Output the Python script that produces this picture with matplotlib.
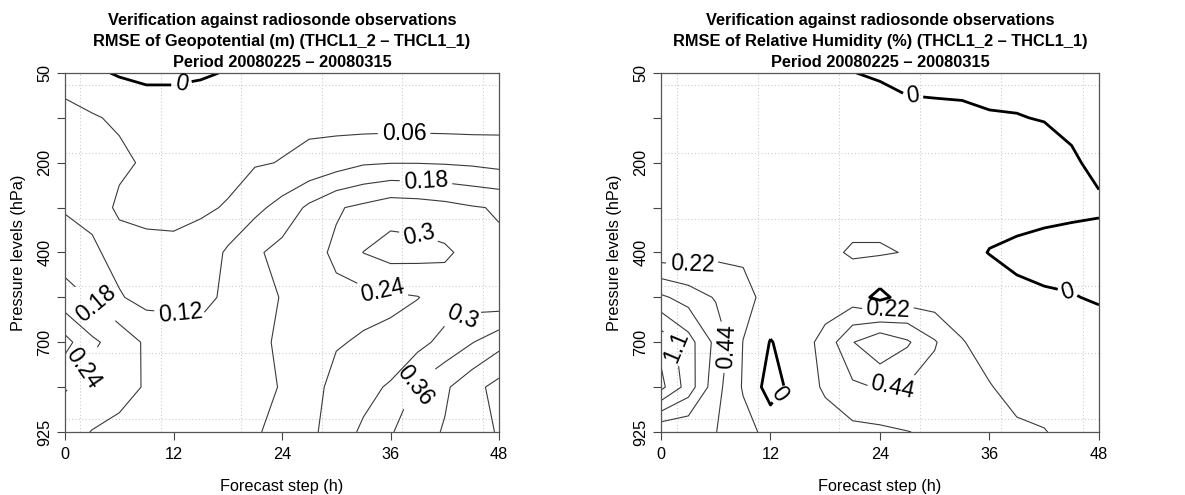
import numpy as np
import matplotlib
matplotlib.use("Agg")
import matplotlib.pyplot as plt

plt.rcParams["font.family"] = ["Liberation Sans", "DejaVu Sans"]

# forecast steps (h) and pressure levels (hPa, top to bottom)
STEPS = [0, 3, 6, 9, 12, 15, 18, 21, 24, 27, 30, 33, 36, 39, 42, 45, 48]
PRESSURE = [50, 100, 200, 300, 400, 500, 700, 850, 925]
PTICK_LABELS = ["50", "200", "400", "700", "925"]
XTICKS = [0, 12, 24, 36, 48]

# RMSE difference of geopotential (m), one row per pressure level
GEO_050 = [0.02, 0.01, -0.005, -0.02, -0.02, -0.01, 0.005, 0.01, 0.02, 0.025, 0.03, 0.025, 0.03, 0.03, 0.03, 0.03, 0.03]
GEO_100 = [0.09, 0.066, 0.05, 0.055, 0.055, 0.055, 0.035, 0.03, 0.045, 0.05, 0.039, 0.03, 0.03, 0.03, 0.03, 0.03, 0.035]
GEO_200 = [0.10, 0.09, 0.075, 0.05, 0.04, 0.04, 0.05, 0.055, 0.062, 0.071, 0.091, 0.113, 0.118, 0.118, 0.115, 0.11, 0.10]
GEO_300 = [0.114, 0.105, 0.045, 0.05, 0.05, 0.055, 0.0625, 0.105, 0.14, 0.192, 0.234, 0.253, 0.275, 0.27, 0.26, 0.245, 0.235]
GEO_400 = [0.155, 0.13, 0.10, 0.071, 0.069, 0.075, 0.13, 0.17, 0.20, 0.22, 0.25, 0.301, 0.323, 0.32, 0.31, 0.28, 0.25]
GEO_500 = [0.20, 0.175, 0.125, 0.10, 0.11, 0.105, 0.13, 0.165, 0.182, 0.21, 0.228, 0.22, 0.23, 0.238, 0.265, 0.27, 0.255]
GEO_700 = [0.32, 0.25, 0.217, 0.17, 0.14, 0.14, 0.135, 0.165, 0.19, 0.21, 0.235, 0.247, 0.252, 0.28, 0.32, 0.357, 0.40]
GEO_850 = [0.245, 0.217, 0.20, 0.175, 0.15, 0.15, 0.14, 0.17, 0.182, 0.215, 0.26, 0.28, 0.308, 0.37, 0.41, 0.46, 0.50]
GEO_925 = [0.20, 0.178, 0.165, 0.15, 0.145, 0.15, 0.14, 0.175, 0.195, 0.225, 0.27, 0.31, 0.355, 0.395, 0.425, 0.47, 0.482]

# RMSE difference of relative humidity (%)
RH_050 = [0.08, 0.08, 0.07, 0.06, 0.05, 0.04, 0.02, 0.005, -0.03, -0.05, -0.06, -0.06, -0.07, -0.07, -0.08, -0.09, -0.10]
RH_100 = [0.10, 0.10, 0.10, 0.10, 0.10, 0.10, 0.10, 0.10, 0.13, 0.05, 0.047, 0.038, 0.015, 0.008, -0.01, -0.04, -0.07]
RH_200 = [0.10, 0.10, 0.10, 0.10, 0.10, 0.10, 0.10, 0.12, 0.12, 0.12, 0.12, 0.12, 0.10, 0.10, 0.10, 0.025, -0.045]
RH_300 = [0.10, 0.10, 0.10, 0.10, 0.10, 0.10, 0.12, 0.15, 0.15, 0.12, 0.10, 0.08, 0.05, 0.07, 0.05, 0.04, 0.03]
RH_400 = [0.08, 0.088, 0.17, 0.18, 0.15, 0.15, 0.18, 0.24, 0.24, 0.21, 0.10, 0.05, -0.005, -0.04, -0.06, -0.08, -0.10]
RH_500 = [0.70, 0.57, 0.42, 0.30, 0.13, 0.10, 0.10, 0.10, -0.06, 0.10, 0.10, 0.12, 0.10, 0.04, 0.02, 0.01, -0.02]
RH_700 = [1.25, 0.97, 0.60, 0.215, -0.01, 0.10, 0.30, 0.65, 0.85, 0.69, 0.46, 0.23, 0.15, 0.13, 0.12, 0.11, 0.10]
RH_850 = [1.38, 1.00, 0.52, 0.20, -0.10, 0.10, 0.25, 0.40, 0.457, 0.42, 0.35, 0.28, 0.23, 0.16, 0.12, 0.11, 0.10]
RH_925 = [0.45, 0.47, 0.445, 0.30, 0.15, 0.10, 0.12, 0.16, 0.175, 0.215, 0.25, 0.26, 0.25, 0.25, 0.23, 0.15, 0.12]

GEO_LEVELS = [0, 0.06, 0.12, 0.18, 0.24, 0.3, 0.36, 0.42, 0.48]
RH_LEVELS = [0, 0.22, 0.44, 0.66, 0.88, 1.1, 1.32]

# contour labels: (level, step, level index)
GEO_LABELS = [(0, 12.9, 0.26), (0.06, 37.5, 1.38), (0.12, 12.7, 5.43),
              (0.18, 3.7, 5.06), (0.18, 39.9, 2.5), (0.24, 2.0, 6.6),
              (0.24, 35.1, 4.84), (0.3, 39.2, 3.57), (0.3, 44.3, 5.6),
              (0.36, 39.7, 7.14)]
RH_LABELS = [(0, 27.6, 0.52), (0, 44.5, 4.95), (0, 13.2, 7.2),
             (0.22, 3.4, 4.24), (0.22, 25.0, 5.43), (0.44, 7.0, 6.1),
             (0.44, 25.5, 7.1), (1.1, 1.35, 6.1)]

GRID_X = [1.7, 10.6, 19.5, 28.4, 37.3, 46.2]
GRID_Y = [0.27, 1.78, 3.25, 4.74, 6.24, 7.71]

TITLE_1 = "Verification against radiosonde observations"
PERIOD = "Period 20080225 \u2013 20080315"
FS = 11.7


def fmt_level(v):
    return f"{round(v, 2):g}"


def draw_panel(ax, field, levels, labels, param):
    ylev = np.arange(len(PRESSURE))
    z = np.array(field)
    for gx in GRID_X:
        ax.axvline(gx, color="#cccccc", lw=0.8, ls=(0, (1, 2)), zorder=0)
    for gy in GRID_Y:
        ax.axhline(gy, color="#cccccc", lw=0.8, ls=(0, (1, 2)), zorder=0)

    # one contour call per level so every label lands on its own line
    for lv in levels:
        zero = lv == 0
        cs = ax.contour(STEPS, ylev, z, levels=[lv],
                        colors="black" if zero else "#3a3a3a",
                        linewidths=2.0 if zero else 0.8)
        pos = [(t, k) for l, t, k in labels if l == lv]
        if pos:
            ax.clabel(cs, manual=pos, inline=True, inline_spacing=4,
                      fontsize=16.5, colors="black", fmt=fmt_level)

    ax.set_xlim(0, 48)
    ax.set_ylim(len(PRESSURE) - 1, 0)
    ax.set_xticks(XTICKS)
    ax.set_yticks(ylev[::2])
    ax.set_yticks(ylev[1::2], minor=True)
    ax.set_yticklabels(PTICK_LABELS, rotation=90, va="center")
    ax.tick_params(which="both", length=6, width=0.8, color="#444444",
                   labelsize=FS)
    ax.tick_params(axis="x", pad=5)
    ax.tick_params(axis="y", pad=3)
    for sp in ax.spines.values():
        sp.set_color("#555555")
        sp.set_linewidth(0.9)
    ax.set_xlabel("Forecast step (h)", fontsize=FS, labelpad=12)
    ax.set_ylabel("Pressure levels (hPa)", fontsize=FS, labelpad=8)
    ax.set_title(f"{TITLE_1}\n{param} (THCL1_2 \u2013 THCL1_1)\n{PERIOD}",
                 fontsize=11.8, fontweight="bold", linespacing=1.52, pad=4)


fig = plt.figure(figsize=(11.85, 4.95), dpi=100)
ax1 = fig.add_axes([0.0549, 0.1273, 0.3662, 0.7253])
ax2 = fig.add_axes([0.5578, 0.1273, 0.3696, 0.7253])

geo = [GEO_050, GEO_100, GEO_200, GEO_300, GEO_400, GEO_500, GEO_700, GEO_850, GEO_925]
rh = [RH_050, RH_100, RH_200, RH_300, RH_400, RH_500, RH_700, RH_850, RH_925]

draw_panel(ax1, geo, GEO_LEVELS, GEO_LABELS, "RMSE of Geopotential (m)")
draw_panel(ax2, rh, RH_LEVELS, RH_LABELS, "RMSE of Relative Humidity (%)")

fig.savefig("out.png", dpi=100)
